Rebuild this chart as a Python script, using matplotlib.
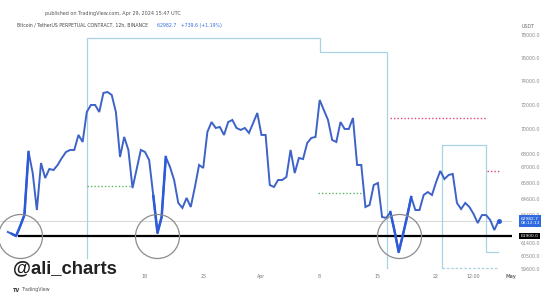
import matplotlib
matplotlib.use('Agg')
import matplotlib.pyplot as plt
import matplotlib.dates as mdates
from matplotlib.ticker import NullLocator, FixedLocator
import pandas as pd

# ---------------- data ----------------
start_time = '2024-03-01 12:00'
closes = [
    62190, 62050, 61900, 62620, 63410, 68180, 66550, 63780, 67320, 66170,
    66860, 66780, 67170, 67710, 68180, 68340, 68340, 69530, 68970, 71390,
    71970, 71970, 71390, 72970, 73050, 72800, 71390, 67790, 69370, 68340,
    65410, 66860, 68340, 68180, 67550, 64820, 62120, 63270, 67790, 67020,
    66020, 64300, 63930, 64670, 64000, 65490, 67170, 66940, 69770, 70570,
    70090, 70170, 69530, 70570, 70740, 70090, 69930, 70090, 69690, 70490,
    71310, 69530, 69530, 65640, 65490, 66020, 66020, 66250, 68340, 66550,
    67710, 67630, 68890, 69290, 69370, 72380, 71550, 70740, 69130, 68970,
    70570, 70010, 70010, 70900, 67170, 67170, 64000, 64150, 65640, 65790,
    63270, 63200, 63630, 62260, 60770, 61970, 63270, 64740, 63780, 63780,
    64890, 65110, 64890, 65870, 66710, 66090, 66400, 66480, 64300, 63850,
    64300, 64000, 63490, 62830, 63410, 63410, 63050, 62330, 62983,
]
last_price = 62982.7
support_level = 61900
support_start = '2024-03-02 18:00'

circle_times = ['2024-03-03 00:00', '2024-03-19 12:00', '2024-04-17 12:00']
circle_prices = [61900, 61900, 61900]
highlight_slices = [(1, 5), (35, 38), (92, 97)]

# light-blue step drawing
step_times = ['2024-03-11 00:00', '2024-03-11 00:00', '2024-04-08 00:00',
              '2024-04-08 00:00', '2024-04-16 02:00', '2024-04-16 02:00']
step_prices = [60356, 77731, 77731, 76490, 76490, 59665]
box_times = ['2024-04-22 17:00', '2024-04-22 17:00', '2024-04-28 00:00',
             '2024-04-28 00:00', '2024-04-29 10:00']
box_prices = [59665, 68731, 68731, 60771, 60771]
box_bottom_times = ['2024-04-22 17:00', '2024-04-29 10:00']
box_bottom_price = 59665

green_levels = [(65565, '2024-03-11 00:00', '2024-03-16 05:00'),
                (65040, '2024-04-07 19:00', '2024-04-13 04:00')]
pink_levels = [(70900, '2024-04-16 10:00', '2024-04-28 03:00'),
               (66705, '2024-04-28 04:00', '2024-04-29 13:00')]

ytick_values = [78000, 76000, 74000, 72000, 70000, 68000, 67000, 65800,
                64600, 63400, 61400, 60500, 59600]
xtick_times = ['2024-03-18', '2024-03-25', '2024-04-01', '2024-04-08',
               '2024-04-15', '2024-04-22', '2024-04-26 12:00', '2024-05-01']
xtick_labels = ['18', '25', 'Apr', '8', '15', '22', '12:00', 'May']

# ---------------- figure ----------------
W, H = 560, 297
fig = plt.figure(figsize=(W / 100, H / 100), dpi=100)
ax = fig.add_axes([0, 1 - 270 / H, 512 / W, (270 - 18) / H])

times = pd.date_range(start_time, periods=len(closes), freq='12h')
T = lambda s: pd.Timestamp(s)

ax.set_yscale('log')
ax.set_ylim(59527, 79540)
ax.set_xlim(T('2024-02-29 13:38'), T('2024-05-01 02:53'))

# pale last-price line
ax.axhline(last_price, color='#d6d6d6', lw=0.7, zorder=1)

# light blue drawings
sc = '#a9d3e4'
ax.plot([T(t) for t in step_times], step_prices, color=sc, lw=0.9, zorder=1)
ax.plot([T(t) for t in box_times], box_prices, color=sc, lw=0.9, zorder=1)
ax.plot([T(t) for t in box_bottom_times], [box_bottom_price] * 2, color=sc,
        lw=0.9, ls=(0, (2, 1.5)), zorder=1)

for p, a, b in green_levels:
    ax.plot([T(a), T(b)], [p, p], color='#5fb463', lw=1.0, ls=(0, (1, 1.5)), zorder=2)
for p, a, b in pink_levels:
    ax.plot([T(a), T(b)], [p, p], color='#e2457c', lw=1.0, ls=(0, (1, 1.5)), zorder=2)

# support line
ax.plot([T(support_start), T('2024-05-01 02:53')], [support_level] * 2,
        color='black', lw=1.6, zorder=3, solid_capstyle='butt')

# main line
ax.plot(times, closes, color='#3d63c8', lw=1.4, zorder=4, solid_joinstyle='miter')
for a, b in highlight_slices:
    ax.plot(times[a:b + 1], closes[a:b + 1], color='#2c5ad8', lw=1.8, zorder=5)
ax.plot(times[-1:], closes[-1:], 'o', color='#2c5ad8', ms=2.5, zorder=6)

# circles
ax.plot([T(t) for t in circle_times], circle_prices, 'o', ms=31.7, mfc='none',
        mec='#8c8c8c', mew=0.9, zorder=6, clip_on=False)

# axes styling
for s in ax.spines.values():
    s.set_visible(False)
ax.yaxis.tick_right()
ax.yaxis.set_major_locator(FixedLocator(ytick_values))
ax.yaxis.set_minor_locator(NullLocator())
ax.set_yticklabels([f'{v:.1f}' for v in ytick_values])
ax.tick_params(axis='y', length=0, pad=6, labelsize=3.4, labelcolor='#8a8a8a')
ax.set_xticks([T(t) for t in xtick_times])
ax.set_xticklabels(xtick_labels)
ax.xaxis.set_minor_locator(NullLocator())
ax.tick_params(axis='x', length=0, pad=3, labelsize=3.4, labelcolor='#777777')
for lbl in ax.get_xticklabels():
    if lbl.get_text() == 'May':
        lbl.set_fontweight('bold')

# price boxes on the right
ax.annotate(f'{last_price:.1f}\n08:12:13', xy=(1, last_price), xycoords=('axes fraction', 'data'),
            xytext=(6, 0), textcoords='offset points', ha='left', va='center',
            fontsize=3.2, color='white', linespacing=1.1, zorder=10,
            bbox=dict(boxstyle='square,pad=0.35', fc='#2f6ae0', ec='none'))
ax.annotate(f'{support_level:.1f}', xy=(1, support_level), xycoords=('axes fraction', 'data'),
            xytext=(6, 0), textcoords='offset points', ha='left', va='center',
            fontsize=3.2, color='white', zorder=10,
            bbox=dict(boxstyle='square,pad=0.3', fc='black', ec='none'))

# header texts
fig.text(45 / W, 1 - 14 / H, 'published on TradingView.com, Apr 29, 2024 15:47 UTC',
         fontsize=3.5, color='#555555', va='center', ha='left')
t1 = fig.text(17 / W, 1 - 25 / H, 'Bitcoin / TetherUS PERPETUAL CONTRACT, 12h, BINANCE',
              fontsize=3.3, color='#444444', va='center', ha='left')
fig.text(157 / W, 1 - 25 / H, '62982.7   +739.6 (+1.19%)', fontsize=3.3,
         color='#2f6ae0', va='center', ha='left')
fig.text(522 / W, 1 - 26 / H, 'USDT', fontsize=3.4, color='#666666', va='center', ha='left')

# watermark / logo
fig.text(13 / W, 1 - 269 / H, '@ali_charts', fontsize=13.3, fontweight='bold',
         family='Liberation Sans', color='#222222', va='center', ha='left')
fig.text(13 / W, 1 - 290 / H, 'TV', fontsize=3.6, fontweight='bold', color='#333333',
         va='center', ha='left')
fig.text(22 / W, 1 - 290 / H, 'TradingView', fontsize=3.4, color='#555555',
         va='center', ha='left')

fig.savefig('out.png', dpi=100)
